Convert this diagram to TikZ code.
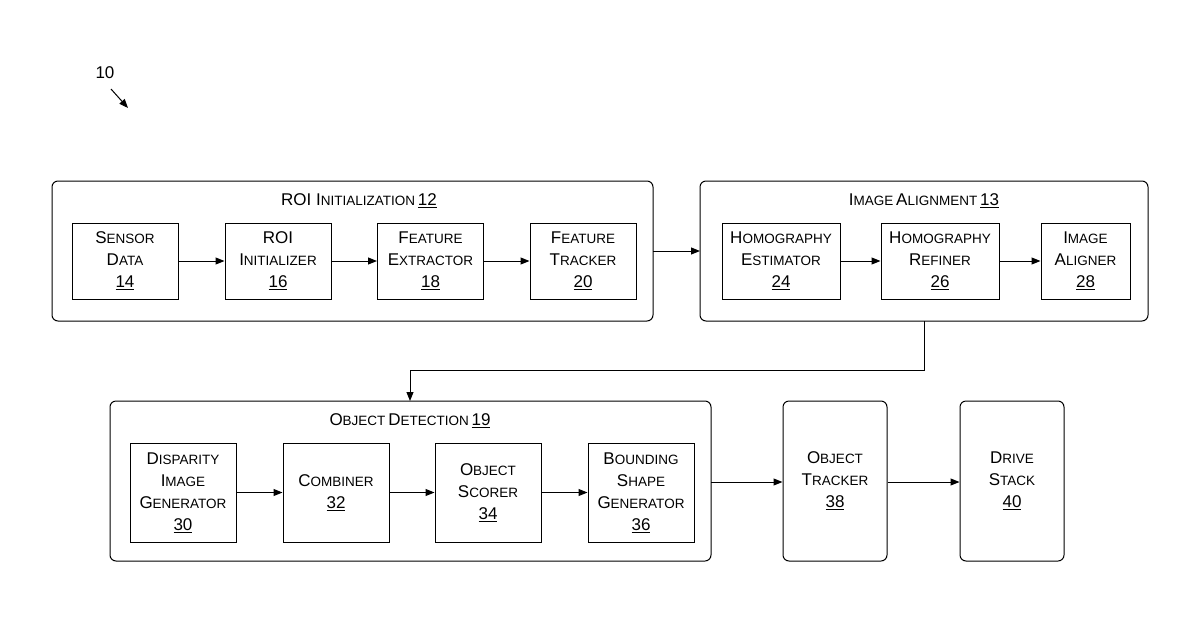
\documentclass[tikz,border=0pt]{standalone}
\usepackage{fontspec}
\setmainfont{Liberation Sans}
\usetikzlibrary{positioning,arrows.meta}
\newcommand\kap[2]{{\fontsize{17}{22}\selectfont #1}{\fontsize{13.5}{22}\selectfont #2}}
\newcommand\num[1]{{\fontsize{17}{22}\selectfont\underline{#1}}}
\tikzset{
  grp/.style={draw,rounded corners=6pt,line width=1pt},
  blk/.style={draw,line width=1pt,align=center,font=\fontsize{17}{22}\selectfont},
  flow/.style={-{Triangle[length=9pt,width=7pt]},line width=1pt}
}
\begin{document}
\begin{tikzpicture}[x=1pt,y=-1pt]
        \useasboundingbox (0,0) rectangle (1200,630);
        % groups
        \draw[grp] (52,181) rectangle (653,321);
        \draw[grp] (700,181) rectangle (1148,321);
        \draw[grp] (110,401) rectangle (711,561);
        \node[grp,minimum width=104pt,minimum height=160pt,align=center,font=\fontsize{17}{22}\selectfont] (ot) at (835,481) {\kap{O}{BJECT}\\\kap{T}{RACKER}\\\num{38}};
        \node[grp,minimum width=104pt,minimum height=160pt,align=center,font=\fontsize{17}{22}\selectfont] (ds) at (1012,481) {\kap{D}{RIVE}\\\kap{S}{TACK}\\\num{40}};
        \coordinate (od) at (410,401);
        \node at (359,201) {\kap{ROI I}{NITIALIZATION} \num{12}};
        \node at (924,201) {\kap{I}{MAGE} \kap{A}{LIGNMENT} \num{13}};
        \node at (410,421) {\kap{O}{BJECT} \kap{D}{ETECTION} \num{19}};
        % blocks
        \node[blk,minimum width=106pt,minimum height=76pt] (s14) at (125,261) {\kap{S}{ENSOR}\\\kap{D}{ATA}\\\num{14}};
        \node[blk,minimum width=106pt,minimum height=76pt] (s16) at (278,261) {\kap{ROI}{}\\\kap{I}{NITIALIZER}\\\num{16}};
        \node[blk,minimum width=106pt,minimum height=76pt] (s18) at (430.5,261) {\kap{F}{EATURE}\\\kap{E}{XTRACTOR}\\\num{18}};
        \node[blk,minimum width=106pt,minimum height=76pt] (s20) at (583,261) {\kap{F}{EATURE}\\\kap{T}{RACKER}\\\num{20}};
        \node[blk,minimum width=118pt,minimum height=76pt] (s24) at (781,261) {\kap{H}{OMOGRAPHY}\\\kap{E}{STIMATOR}\\\num{24}};
        \node[blk,minimum width=118pt,minimum height=76pt] (s26) at (940,261) {\kap{H}{OMOGRAPHY}\\\kap{R}{EFINER}\\\num{26}};
        \node[blk,minimum width=89pt,minimum height=76pt] (s28) at (1085.5,261) {\kap{I}{MAGE}\\\kap{A}{LIGNER}\\\num{28}};
        \node[blk,minimum width=106pt,minimum height=99pt] (s30) at (183,492.5) {\kap{D}{ISPARITY}\\\kap{I}{MAGE}\\\kap{G}{ENERATOR}\\\num{30}};
        \node[blk,minimum width=106pt,minimum height=99pt] (s32) at (336,492.5) {\kap{C}{OMBINER}\\\num{32}};
        \node[blk,minimum width=106pt,minimum height=99pt] (s34) at (488,492.5) {\kap{O}{BJECT}\\\kap{S}{CORER}\\\num{34}};
        \node[blk,minimum width=106pt,minimum height=99pt] (s36) at (641,492.5) {\kap{B}{OUNDING}\\\kap{S}{HAPE}\\\kap{G}{ENERATOR}\\\num{36}};
        % arrows
        \draw[flow] (s14) -- (s16);
        \draw[flow] (s16) -- (s18);
        \draw[flow] (s18) -- (s20);
        \draw[flow] (653,251) -- (700,251);
        \draw[flow] (s24) -- (s26);
        \draw[flow] (s26) -- (s28);
        \draw[flow] (924,321) -- (924,370) -| (od);
        \draw[flow] (s30) -- (s32);
        \draw[flow] (s32) -- (s34);
        \draw[flow] (s34) -- (s36);
        \draw[flow] (711,482) -- (ot.west |- 0,482);
        \draw[flow] (ot.east |- 0,482) -- (ds.west |- 0,482);
        % label
        \node (ref) at (105,73) {\fontsize{17}{20}\selectfont 10};
        \draw[flow] (111,89) -- (128,108);
\end{tikzpicture}
\end{document}
